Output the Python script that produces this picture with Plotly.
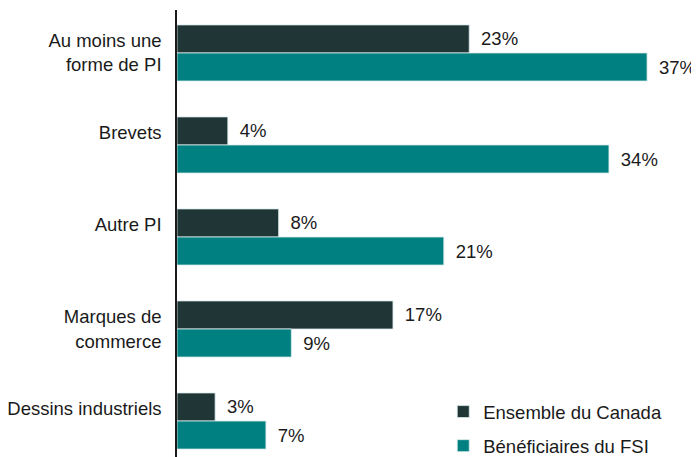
import plotly.graph_objects as go

categories = ["Au moins une<br>forme de PI", "Brevets<br>\u00a0", "Autre PI<br>\u00a0", "Marques de<br>commerce", "Dessins industriels<br>\u00a0"]
ensemble_canada = [23, 4, 8, 17, 3]
beneficiaires_fsi = [37, 34, 21, 9, 7]
series_names = ["Ensemble du Canada", "Bénéficiaires du FSI"]

DARK = "#1f3536"
TEAL = "#008080"
FONT = "Arial, Liberation Sans, sans-serif"
FS = 18.5

fig = go.Figure()
for i, (name, vals, col) in enumerate([(series_names[0], ensemble_canada, DARK), (series_names[1], beneficiaires_fsi, TEAL)]):
    fig.add_trace(go.Bar(
        y=categories, x=vals, name=name, orientation="h",
        legendgroup=f"g{i}",
        marker=dict(color=col, line=dict(color="rgba(220,235,235,0.8)", width=1)),
        text=["\u00a0\u2009" + f"{v}%" for v in vals],
        textposition="outside", cliponaxis=False,
        textfont=dict(family=FONT, size=FS, color="#1a1a1a"),
        hoverinfo="skip",
    ))

fig.update_layout(
    width=691, height=449,
    margin=dict(l=169, r=10, t=2, b=0, autoexpand=False),
    paper_bgcolor="white", plot_bgcolor="white",
    barmode="group", bargap=0.39, bargroupgap=0,
    font=dict(family=FONT, size=FS, color="#1a1a1a"),
    xaxis=dict(range=[0, 40.3], visible=False, fixedrange=True, automargin=False),
    yaxis=dict(
        type="category", range=[4.391, -0.467],
        showline=True, linecolor="#1a1a1a", linewidth=1.5,
        ticks="", showgrid=False, zeroline=False,
        ticklabelstandoff=10, automargin=False,
        tickfont=dict(family=FONT, size=FS, color="#1a1a1a"),
    ),
    legend=dict(
        x=0.52, xanchor="left", y=0.143, yanchor="top",
        font=dict(family=FONT, size=FS, color="#1a1a1a"),
        bgcolor="rgba(0,0,0,0)", traceorder="grouped", tracegroupgap=7,
    ),
    showlegend=True,
)

fig.write_html("out.html")
